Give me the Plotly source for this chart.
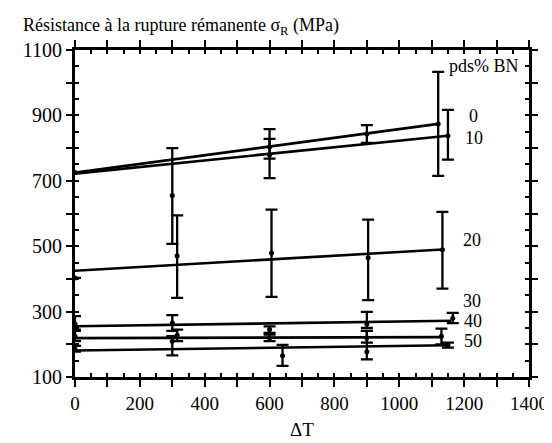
import plotly.graph_objects as go

# ---------------- data ----------------
# measured points (ΔT, σR) with asymmetric error bar bounds
s0_x = [300, 600, 900, 1120]
s0_y = [655, 780, 843, 874]
s0_hi = [800, 858, 870, 1033]
s0_lo = [507, 708, 816, 715]

s10_x = [0, 600, 1150]
s10_y = [725, 803, 838]
s10_hi = [725, 828, 917]
s10_lo = [725, 768, 765]

s20_x = [0, 315, 606, 904, 1133]
s20_y = [403, 470, 479, 465, 489]
s20_hi = [403, 594, 612, 581, 605]
s20_lo = [403, 342, 345, 335, 370]

s40_x = [0, 300, 600, 900, 1165]
s40_y = [262, 265, 245, 262, 280]
s40_hi = [286, 289, 255, 299, 296]
s40_lo = [245, 241, 235, 250, 265]

s50_x = [0, 315, 600, 900, 1130]
s50_y = [225, 228, 219, 219, 225]
s50_hi = [241, 245, 230, 241, 248]
s50_lo = [210, 210, 210, 205, 200]

s60_x = [0, 300, 640, 900, 1150]
s60_y = [185, 209, 165, 177, 197]
s60_hi = [195, 225, 198, 241, 205]
s60_lo = [178, 166, 134, 154, 190]

# fitted lines: start value at ΔT=0, end ΔT, end value
fit_y0 = [725, 722, 425, 255, 219, 181]
fit_x1 = [1120, 1150, 1133, 1160, 1130, 1150]
fit_y1 = [874, 838, 490, 272, 222, 197]

series_labels = ["0", "10", "20", "30", "40", "50"]
legend_title = "pds% BN"

x_ticks = [0, 200, 400, 600, 800, 1000, 1200, 1400]
y_ticks = [100, 300, 500, 700, 900, 1100]

FONT = "Liberation Serif"

fig = go.Figure()

series = [
    (s0_x, s0_y, s0_hi, s0_lo),
    (s10_x, s10_y, s10_hi, s10_lo),
    (s20_x, s20_y, s20_hi, s20_lo),
    (s40_x, s40_y, s40_hi, s40_lo),
    (s50_x, s50_y, s50_hi, s50_lo),
    (s60_x, s60_y, s60_hi, s60_lo),
]

for xs, ys, hi, lo in series:
    fig.add_trace(go.Scatter(
        x=xs, y=ys, mode="markers",
        marker=dict(color="black", size=5, symbol="circle"),
        error_y=dict(type="data", symmetric=False,
                     array=[h - y for h, y in zip(hi, ys)],
                     arrayminus=[y - l for y, l in zip(ys, lo)],
                     color="black", thickness=2.3, width=6),
        showlegend=False, hoverinfo="skip",
    ))

for y0, x1, y1 in zip(fit_y0, fit_x1, fit_y1):
    fig.add_trace(go.Scatter(
        x=[0, x1], y=[y0, y1], mode="lines",
        line=dict(color="black", width=2.6),
        showlegend=False, hoverinfo="skip",
    ))

# invisible trace to anchor the minor-tick overlay axes
fig.add_trace(go.Scatter(x=[0], y=[100], xaxis="x2", yaxis="y2", mode="markers",
                         marker=dict(opacity=0), showlegend=False, hoverinfo="skip"))

# labels of the series
label_pos = [(1228, 898), (1230, 831), (1225, 520), (1225, 333), (1228, 272), (1228, 211)]
for txt, (lx, ly) in zip(series_labels, label_pos):
    fig.add_annotation(x=lx, y=ly, text=txt, showarrow=False,
                       font=dict(family=FONT, size=18, color="black"),
                       xanchor="center", yanchor="middle")
fig.add_annotation(x=1262, y=1051, text=legend_title, showarrow=False,
                   font=dict(family=FONT, size=18, color="black"),
                   xanchor="center", yanchor="middle")

# title and axis title
fig.add_annotation(xref="paper", yref="paper", x=-0.118, y=1.073,
                   text="Résistance à la rupture rémanente σ<sub>R</sub> (MPa)",
                   showarrow=False, xanchor="left", yanchor="middle",
                   font=dict(family=FONT, size=18, color="black"))
fig.add_annotation(xref="paper", yref="paper", x=0.5, y=-0.16,
                   text="ΔT", showarrow=False, xanchor="center", yanchor="middle",
                   font=dict(family=FONT, size=19, color="black"))

# main axes: line, major ticks (100 step), labels
fig.update_layout(
    xaxis=dict(range=[0, 1400], tickvals=list(range(0, 1401, 100)),
               ticktext=[str(v) if v in x_ticks else " " for v in range(0, 1401, 100)],
               tickfont=dict(family=FONT, size=19, color="black"),
               ticks="outside", ticklen=7, tickwidth=2, tickcolor="black",
               showgrid=False, zeroline=False, showline=True, linecolor="black",
               linewidth=2.8, mirror="ticks"),
    yaxis=dict(range=[100, 1100], tickvals=list(range(100, 1101, 100)),
               ticktext=[str(v) if v in y_ticks else " " for v in range(100, 1101, 100)],
               tickfont=dict(family=FONT, size=20, color="black"),
               ticks="outside", ticklen=6, tickwidth=2, tickcolor="black",
               showgrid=False, zeroline=False, showline=True, linecolor="black",
               linewidth=2.8, mirror="ticks"),
    xaxis2=dict(range=[0, 1400], overlaying="x", side="bottom", dtick=50, tick0=0,
                ticks="inside", ticklen=4, tickwidth=1.5, tickcolor="black",
                showticklabels=False, showgrid=False, zeroline=False,
                showline=False, mirror="ticks"),
    yaxis2=dict(range=[100, 1100], overlaying="y", side="left", dtick=50, tick0=100,
                ticks="inside", ticklen=4, tickwidth=1.5, tickcolor="black",
                showticklabels=False, showgrid=False, zeroline=False,
                showline=False, mirror="ticks"),
    width=552, height=443,
    margin=dict(l=67, r=19, t=42, b=74),
    plot_bgcolor="white", paper_bgcolor="white",
    font=dict(family=FONT, color="black"),
)

fig.write_html("out.html")
